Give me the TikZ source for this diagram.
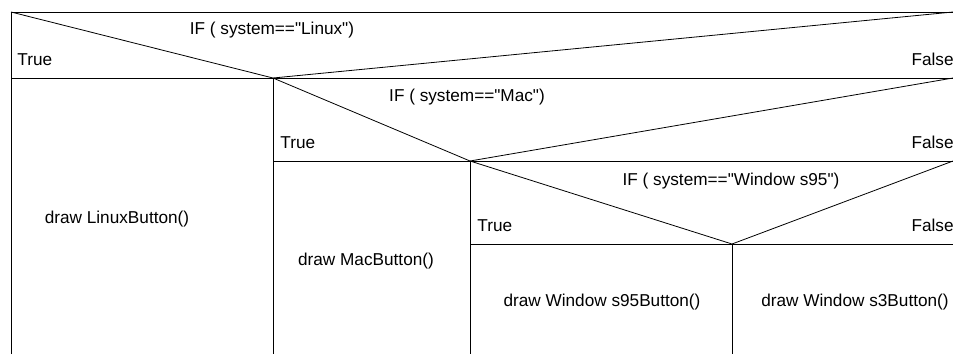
\documentclass[tikz,border=0pt]{standalone}
\usepackage{fontspec}
\newfontfamily\nsfont{Liberation Sans}
\begin{document}
\begin{tikzpicture}[x=1pt,y=-1pt,line width=0.8pt,
  font=\nsfont\fontsize{17.2}{20}\selectfont,
  txt/.style={inner sep=0pt,anchor=base},
  tlbl/.style={inner sep=0pt,anchor=base west},
  flbl/.style={inner sep=0pt,anchor=base east}]
\useasboundingbox (0,0) rectangle (953,354);
\coordinate (ltop) at (11,12);
\coordinate (rtop) at (953,12);
\coordinate (lbot) at (11,354);
\coordinate (linuxtip) at (273,78);
\coordinate (macr) at (953,78);
\coordinate (mactip) at (470,161);
\coordinate (winr) at (953,161);
\coordinate (wintip) at (732,244);
\coordinate (winend) at (953,244);
% outer frame
\draw (lbot) -- (ltop) -- (rtop);
% IF Linux
\draw (ltop) -- (linuxtip) -- (rtop);
\draw (ltop |- linuxtip) -- (macr);
\draw (linuxtip) -- (linuxtip |- lbot);
% IF Mac
\draw (linuxtip) -- (mactip) -- (macr);
\draw (linuxtip |- mactip) -- (winr);
\draw (mactip) -- (mactip |- lbot);
% IF Windows95
\draw (mactip) -- (wintip) -- (winr);
\draw (mactip |- wintip) -- (winend);
\draw (wintip) -- (wintip |- lbot);
\node[txt] (iflinux) at (272,34) {IF ( system=="Linux")};
\node[tlbl] (tlinux) at (17,65) {True};
\node[flbl] (flinux) at (954,65) {False};
\node[txt] (ifmac) at (467,101) {IF ( system=="Mac")};
\node[tlbl] (tmac) at (280,148) {True};
\node[flbl] (fmac) at (954,148) {False};
\node[txt] (ifwin) at (731,185) {IF ( system=="Window s95")};
\node[tlbl] (twin) at (477,231) {True};
\node[flbl] (fwin) at (954,231) {False};
\node[txt] (linuxbtn) at (117,223) {draw LinuxButton()};
\node[txt] (macbtn) at (366,265) {draw MacButton()};
\node[txt] (w95btn) at (602,306) {draw Window s95Button()};
\node[txt] (w3btn) at (855,306) {draw Window s3Button()};
\end{tikzpicture}
\end{document}
